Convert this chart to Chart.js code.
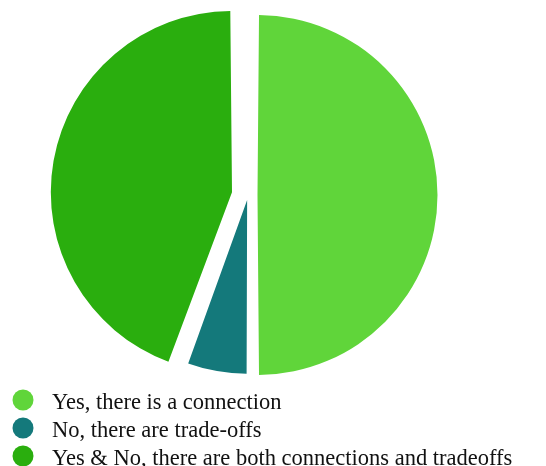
<!DOCTYPE html>
<html>
<head>
<meta charset="utf-8">
<script src="https://cdn.jsdelivr.net/npm/chart.js@4"></script>
<style>
    html, body { margin: 0; padding: 0; background: #ffffff; }
    #wrap { position: relative; width: 546px; height: 466px; }
</style>
</head>
<body>
<div id="wrap"><canvas id="answersPie"></canvas></div>
<script>
// Survey answers
const answerLabels = [
    'Yes, there is a connection',
    'No, there are trade-offs',
    'Yes & No, there are both connections and tradeoffs'
];
const answerCounts = [9, 1, 8];
const sliceColors = ['#60D53A', '#14797B', '#2AAE0E'];
// pull-out of each slice from the centre
const sliceOffsets = [38, 20, 65];

// Legend painted on the canvas, one entry per row, under the pie
const rowLegend = {
    id: 'rowLegend',
    afterDraw(chart, args, opts) {
        const ctx = chart.ctx;
        const colors = chart.data.datasets[0].backgroundColor;
        ctx.save();
        ctx.font = opts.font;
        ctx.textBaseline = 'alphabetic';
        chart.data.labels.forEach((label, i) => {
            const cy = opts.top + i * opts.rowHeight;
            ctx.beginPath();
            ctx.arc(opts.dotX, cy, opts.dotRadius, 0, Math.PI * 2);
            ctx.fillStyle = colors[i];
            ctx.fill();
            ctx.fillStyle = opts.color;
            ctx.fillText(label, opts.textX, cy + 8.5);
        });
        ctx.restore();
    }
};

document.addEventListener('DOMContentLoaded', function() {
    const ctx = document.getElementById('answersPie').getContext('2d');
    new Chart(ctx, {
        type: 'pie',
        data: {
            labels: answerLabels,
            datasets: [{
                data: answerCounts,
                backgroundColor: sliceColors,
                offset: sliceOffsets,
                borderWidth: 0
            }]
        },
        options: {
            responsive: true,
            maintainAspectRatio: false,
            animation: false,
            radius: 170.5,
            layout: {
                padding: { left: 0, right: 50, top: 0, bottom: 76 }
            },
            plugins: {
                legend: { display: false },
                tooltip: { enabled: false },
                rowLegend: {
                    top: 400,
                    rowHeight: 28,
                    dotX: 23,
                    dotRadius: 10.5,
                    textX: 52,
                    font: '22.5px "Liberation Serif", "Times New Roman", serif',
                    color: '#111111'
                }
            }
        },
        plugins: [rowLegend]
    });
});
</script>
</body>
</html>
